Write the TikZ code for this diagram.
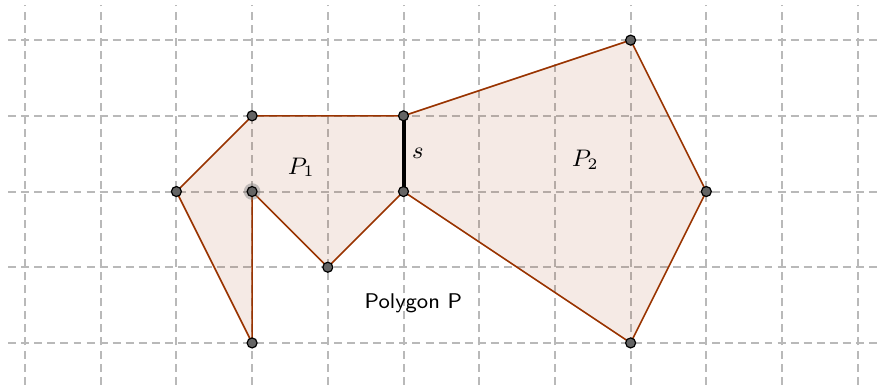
\documentclass[tikz,border=0pt]{standalone}
\usepackage{amsfonts,amssymb,amsmath}
\usepackage{xcolor}
\usepackage{tikz}
\usetikzlibrary{arrows.meta}
\definecolor{edgebrown}{RGB}{153,51,0}
\definecolor{gridgray}{RGB}{185,185,185}
\definecolor{ptgray}{RGB}{100,100,100}

\begin{document}
\begin{tikzpicture}[x=1cm,y=1cm,
  gridline/.style={gridgray,line width=0.75pt,dash pattern=on 3pt off 1.9pt},
  polyedge/.style={edgebrown,line width=0.6pt,fill=edgebrown,fill opacity=0.1,line join=round},
  dotpt/.style={fill=ptgray,draw=black,line width=0.45pt}]
\useasboundingbox(-0.33,-0.58)rectangle(11.4,4.53);
% grid
\foreach \j in {0,...,4}
  \draw[gridline](-0.22,\j)--(11.3,\j);
\foreach \i in {0,...,11}
  \draw[gridline](\i,-0.55)--(\i,4.47);
% vertices
\coordinate(A)at(2,2);
\coordinate(B)at(3,3);
\coordinate(C)at(5,3);
\coordinate(D)at(5,2);
\coordinate(E)at(4,1);
\coordinate(F)at(3,2);
\coordinate(G)at(3,0);
\coordinate(H)at(8,4);
\coordinate(I)at(9,2);
\coordinate(J)at(8,0);
% polygons
\draw[polyedge](A)--(B)--(C)--(D)--(E)--(F)--(G)--cycle;
\draw[polyedge](C)--(H)--(I)--(J)--(D)--cycle;
\draw[line width=1.5pt](C)--(D);
\fill[gray,opacity=0.45](F)circle(0.11);
\foreach \p in {A,B,C,D,E,F,G,H,I,J}
  \draw[dotpt](\p)circle(0.066);
\draw(3.65,2.32)node{\small$P_1$}
(7.4,2.42)node{\small$P_2$}
(5.19,2.5)node{\small$s$}
(5.13,0.53)node{\footnotesize\sffamily Polygon P};
\end{tikzpicture}
\end{document}
